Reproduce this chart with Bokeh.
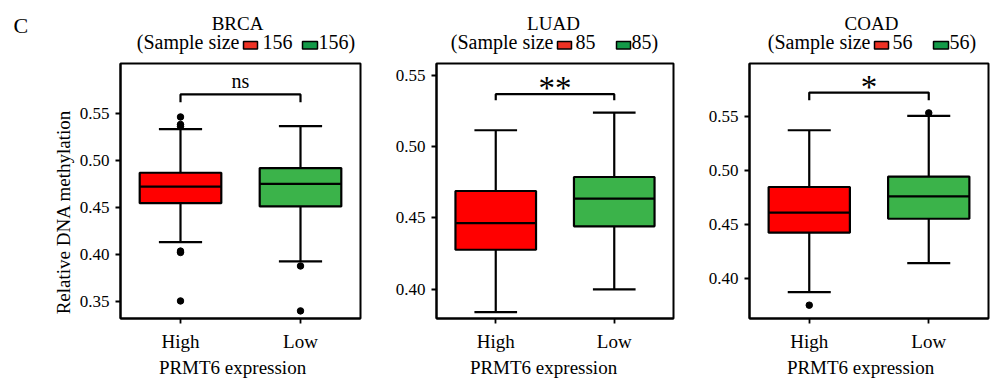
import math
from bokeh.plotting import figure
from bokeh.models import (Label, FixedTicker, PrintfTickFormatter,
                          FactorRange, Range1d, ColumnDataSource)
from bokeh.core.properties import value
from bokeh.transform import dodge
from bokeh.layouts import row, column
from bokeh.embed import file_html
from bokeh.resources import INLINE

# ---------------- data ----------------
groups = ["High", "Low"]
box_fill = ["#FF0000", "#3BB34A"]
swatch_fill = ["#EE3224", "#139A48"]

cancers = ["BRCA", "LUAD", "COAD"]
sample_sizes = [[156, 156], [85, 85], [56, 56]]
signif = ["ns", "**", "*"]
x_title = "PRMT6 expression"
y_title = "Relative DNA methylation"

q1 = [[0.4546, 0.4511], [0.4276, 0.4440], [0.4425, 0.4554]]
median = [[0.4723, 0.4752], [0.4463, 0.4634], [0.4610, 0.4761]]
q3 = [[0.4870, 0.4920], [0.4688, 0.4786], [0.4847, 0.4943]]
lower_whisker = [[0.4131, 0.3926], [0.3839, 0.3998], [0.3876, 0.4144]]
upper_whisker = [[0.5336, 0.5368], [0.5114, 0.5238], [0.5371, 0.5503]]

outlier_group = [["High", "High", "High", "High", "High", "High", "Low", "Low"],
                 [],
                 ["High", "Low"]]
outlier_value = [[0.5465, 0.5385, 0.5365, 0.4035, 0.4020, 0.3503, 0.3876, 0.3397],
                 [],
                 [0.3756, 0.5531]]

bracket_top = [0.5705, 0.5367, 0.5719]
bracket_leg = [0.5623, 0.5325, 0.5648]

y_ranges = [(0.3316, 0.6035), (0.3794, 0.5582), (0.3633, 0.5987)]
y_ticks = [[0.35, 0.40, 0.45, 0.50, 0.55],
           [0.40, 0.45, 0.50, 0.55],
           [0.40, 0.45, 0.50, 0.55]]

# ---------------- layout constants ----------------
FONT = "Liberation Serif"
HEADER_H = 56
BORDER_TOP = 7
FRAME_H = 255
BORDER_BOTTOM = 36
FOOTER_H = 25
PANEL_H = BORDER_TOP + FRAME_H + BORDER_BOTTOM
YLAB_W = 75
LW = 2.2

layout = [
    dict(x0=0, bl=120, fw=240, br=20),
    dict(x0=380, bl=56, fw=237, br=20),
    dict(x0=693, bl=56, fw=239, br=4),
]
# header / footer pieces, page px
title_cx = [237, 553, 871]
sq1 = [(243, 257), (557, 571), (874, 888)]
n1_x = [262, 575, 892]
sq2 = [(302, 317), (616, 630), (933, 948)]
n2_x = [318, 631, 949]
xlab_cx = [232, 543, 860]
ylab_c = (63, 229.5)


def blank(w, h):
    f = figure(width=w, height=h, x_range=Range1d(0, w), y_range=Range1d(h, 0),
               x_axis_type=None, y_axis_type=None, output_backend="svg",
               toolbar_location=None, min_border=0)
    f.outline_line_color = None
    f.xgrid.visible = False
    f.ygrid.visible = False
    f.background_fill_color = "white"
    f.border_fill_color = "white"
    return f


def fig_width(i):
    L = layout[i]
    return L["bl"] + L["fw"] + L["br"]


def make_header(i):
    x0 = layout[i]["x0"]
    h = blank(fig_width(i), HEADER_H)
    fnt = value(FONT)
    h.text(x=[title_cx[i] - x0], y=[22.5], text=[cancers[i]], text_font=fnt,
           text_font_size="19px", text_align="center", text_baseline="middle",
           text_color="black")
    h.text(x=[sq1[i][0] - 4 - x0], y=[41.5], text=["(Sample size"], text_font=fnt,
           text_font_size="20px", text_align="right", text_baseline="middle",
           text_color="black")
    h.text(x=[n1_x[i] - x0, n2_x[i] - x0], y=[41.5, 41.5],
           text=[str(sample_sizes[i][0]), str(sample_sizes[i][1]) + ")"],
           text_font=fnt, text_font_size="20px", text_align="left",
           text_baseline="middle", text_color="black")
    h.quad(left=[sq1[i][0] - x0, sq2[i][0] - x0], right=[sq1[i][1] - x0, sq2[i][1] - x0],
           top=[41, 41], bottom=[48.5, 48.5], fill_color=swatch_fill,
           line_color="black", line_width=1.5)
    if i == 0:
        h.text(x=[13], y=[25], text=["C"], text_font=fnt, text_font_size="22px",
               text_align="left", text_baseline="alphabetic", text_color="black")
    return h


def make_footer(i):
    x0 = layout[i]["x0"]
    f = blank(fig_width(i), FOOTER_H)
    f.text(x=[xlab_cx[i] - x0], y=[12.5], text=[x_title], text_font=value(FONT),
           text_font_size="19px", text_align="center", text_baseline="middle",
           text_color="black")
    return f


def make_ylabel():
    f = blank(YLAB_W, PANEL_H)
    f.text(x=[ylab_c[0]], y=[ylab_c[1] - HEADER_H], text=[y_title], angle=math.pi / 2,
           text_font=value(FONT), text_font_size="19px", text_align="center",
           text_baseline="middle", text_color="black")
    return f


def make_panel(i):
    lo, hi = y_ranges[i]
    L = layout[i]
    bl = L["bl"] - (YLAB_W if i == 0 else 0)
    fw = L["fw"]
    p = figure(width=bl + fw + L["br"], height=PANEL_H,
               x_range=FactorRange(*groups), y_range=Range1d(lo, hi),
               output_backend="svg", toolbar_location=None,
               min_border_left=bl, min_border_right=L["br"],
               min_border_top=BORDER_TOP, min_border_bottom=BORDER_BOTTOM)
    p.background_fill_color = "white"
    p.border_fill_color = "white"
    p.outline_line_color = "black"
    p.outline_line_width = 2
    p.outline_line_alpha = 1.0
    p.xgrid.visible = False
    p.ygrid.visible = False

    src = ColumnDataSource(dict(g=groups, q1=q1[i], med=median[i], q3=q3[i],
                                lw=lower_whisker[i], uw=upper_whisker[i],
                                fill=box_fill))
    # whiskers
    p.segment(x0="g", y0="q3", x1="g", y1="uw", source=src, line_color="black", line_width=LW)
    p.segment(x0="g", y0="q1", x1="g", y1="lw", source=src, line_color="black", line_width=LW)
    # caps
    for col in ("uw", "lw"):
        p.segment(x0=dodge("g", -0.18, range=p.x_range), y0=col,
                  x1=dodge("g", 0.18, range=p.x_range), y1=col,
                  source=src, line_color="black", line_width=LW)
    # boxes
    p.vbar(x="g", bottom="q1", top="q3", width=0.68, source=src,
           fill_color="fill", line_color="black", line_width=LW)
    p.segment(x0=dodge("g", -0.34, range=p.x_range), y0="med",
              x1=dodge("g", 0.34, range=p.x_range), y1="med",
              source=src, line_color="black", line_width=LW)
    # outliers
    if outlier_value[i]:
        p.scatter(x=outlier_group[i], y=outlier_value[i], size=6.5,
                  fill_color="black", line_color="black")
    # significance bracket
    p.line(x=[groups[0], groups[0], groups[1], groups[1]],
           y=[bracket_leg[i], bracket_top[i], bracket_top[i], bracket_leg[i]],
           line_color="black", line_width=LW)
    is_ns = signif[i] == "ns"
    p.add_layout(Label(x=1.0, y=bracket_top[i], text=signif[i], text_align="center",
                       text_baseline="alphabetic", y_offset=13 if is_ns else 6,
                       text_font=FONT, text_font_size="20px" if is_ns else "33px",
                       text_color="black"))

    # axes
    p.yaxis.ticker = FixedTicker(ticks=y_ticks[i])
    p.yaxis.formatter = PrintfTickFormatter(format="%.2f")
    for ax in (p.xaxis, p.yaxis):
        ax.axis_line_color = "black"
        ax.axis_line_width = 2
        ax.major_tick_line_color = "black"
        ax.major_tick_line_width = 1.8
        ax.major_tick_out = 5
        ax.major_tick_in = 0
        ax.minor_tick_line_color = None
        ax.major_label_text_font = FONT
        ax.major_label_text_color = "black"
    p.yaxis.major_label_text_font_size = "17px"
    p.xaxis.major_label_text_font_size = "19px"
    p.yaxis.major_label_standoff = 6
    p.xaxis.major_label_standoff = 7
    return p


headers = [make_header(i) for i in range(3)]
panels = [make_panel(i) for i in range(3)]
footers = [make_footer(i) for i in range(3)]
page = column(row(*headers, spacing=0),
              row(make_ylabel(), *panels, spacing=0),
              row(*footers, spacing=0), spacing=0)
open("out.html", "w").write(file_html(page, INLINE))
